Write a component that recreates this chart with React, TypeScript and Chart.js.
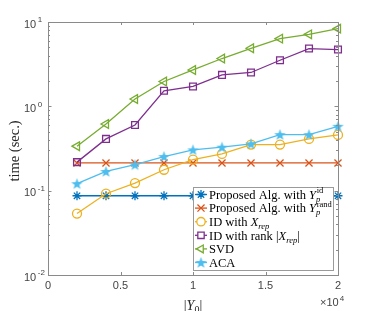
import React, { useEffect, useRef } from 'react';
import { Chart, registerables } from 'chart.js';

Chart.register(...registerables);

// ---- data ----
const xValues = [2000, 4000, 6000, 8000, 10000, 12000, 14000, 16000, 18000, 20000];
const proposedId = [0.087, 0.087, 0.087, 0.087, 0.087, 0.087, 0.087, 0.087, 0.087, 0.087];
const proposedRand = [0.213, 0.213, 0.213, 0.213, 0.213, 0.213, 0.213, 0.213, 0.213, 0.213];
const idXrep = [0.0535, 0.092, 0.123, 0.177, 0.234, 0.273, 0.352, 0.352, 0.411, 0.458];
const idRank = [0.218, 0.411, 0.601, 1.53, 1.72, 2.36, 2.52, 3.52, 4.84, 4.71];
const svd = [0.337, 0.618, 1.22, 1.97, 2.70, 3.69, 4.88, 6.35, 7.14, 8.34];
const aca = [0.121, 0.169, 0.203, 0.254, 0.305, 0.328, 0.359, 0.462, 0.462, 0.580];

const xTickValues = [0, 5000, 10000, 15000, 20000];
const xTickLabels = ['0', '0.5', '1', '1.5', '2'];
const yDecades = [1, 0, -1, -2];

const C_BLUE = '#0072BD';
const C_RED = '#D95319';
const C_YEL = '#EDB120';
const C_PUR = '#7E2F8E';
const C_GRN = '#77AC30';
const C_CYAN = '#4DBEEE';

function makePentagram(color: string, size: number): HTMLCanvasElement {
  const c = document.createElement('canvas');
  c.width = size;
  c.height = size;
  const ctx = c.getContext('2d')!;
  const cx = size / 2, cy = size / 2 + 0.5;
  const R = size / 2 - 0.5, r = R * 0.4;
  ctx.beginPath();
  for (let i = 0; i < 10; i++) {
    const rad = -Math.PI / 2 + (i * Math.PI) / 5;
    const rr = i % 2 === 0 ? R : r;
    const px = cx + Math.cos(rad) * rr, py = cy + Math.sin(rad) * rr;
    if (i === 0) ctx.moveTo(px, py); else ctx.lineTo(px, py);
  }
  ctx.closePath();
  ctx.fillStyle = color;
  ctx.fill();
  return c;
}

type Part = { t?: string; it?: boolean; sub?: string; subIt?: boolean; sup?: string };

function drawRich(ctx: CanvasRenderingContext2D, x: number, baseline: number, parts: Part[], size: number, small: number, family: string, measureOnly = false): number {
  let cx = x;
  for (const p of parts) {
    if (p.t !== undefined) {
      ctx.font = `${p.it ? 'italic ' : ''}${size}px ${family}`;
      if (!measureOnly) ctx.fillText(p.t, cx, baseline);
      cx += ctx.measureText(p.t).width;
    }
    if (p.sub !== undefined || p.sup !== undefined) {
      let w = 0;
      if (p.sup !== undefined) {
        ctx.font = `${small}px ${family}`;
        if (!measureOnly) ctx.fillText(p.sup, cx + 0.8, baseline - size * 0.42);
        w = Math.max(w, ctx.measureText(p.sup).width + 0.8);
      }
      if (p.sub !== undefined) {
        ctx.font = `${p.subIt ? 'italic ' : ''}${small}px ${family}`;
        if (!measureOnly) ctx.fillText(p.sub, cx, baseline + size * 0.25);
        w = Math.max(w, ctx.measureText(p.sub).width);
      }
      cx += w;
    }
  }
  return cx - x;
}

const pentaImg = makePentagram(C_CYAN, 13);

function drawMarker(ctx: CanvasRenderingContext2D, style: string, x: number, y: number, r: number, color: string) {
  ctx.save();
  ctx.strokeStyle = color;
  ctx.fillStyle = color;
  ctx.lineWidth = 1.3;
  ctx.beginPath();
  if (style === 'star') {
    for (let i = 0; i < 4; i++) {
      const a = (i * Math.PI) / 4;
      ctx.moveTo(x - Math.cos(a) * r, y - Math.sin(a) * r);
      ctx.lineTo(x + Math.cos(a) * r, y + Math.sin(a) * r);
    }
    ctx.stroke();
  } else if (style === 'crossRot') {
    const o = r * Math.SQRT1_2;
    ctx.moveTo(x - o, y - o); ctx.lineTo(x + o, y + o);
    ctx.moveTo(x + o, y - o); ctx.lineTo(x - o, y + o);
    ctx.stroke();
  } else if (style === 'circle') {
    ctx.arc(x, y, r, 0, Math.PI * 2);
    ctx.fillStyle = '#fff';
    ctx.fill();
    ctx.stroke();
  } else if (style === 'rect') {
    const s = r * Math.SQRT1_2;
    ctx.rect(x - s, y - s, 2 * s, 2 * s);
    ctx.fillStyle = '#fff';
    ctx.fill();
    ctx.stroke();
  } else if (style === 'triLeft') {
    ctx.moveTo(x - r, y);
    ctx.lineTo(x + r * 0.5, y - r * 0.866);
    ctx.lineTo(x + r * 0.5, y + r * 0.866);
    ctx.closePath();
    ctx.fillStyle = '#fff';
    ctx.fill();
    ctx.stroke();
  } else if (style === 'penta') {
    ctx.drawImage(pentaImg, x - pentaImg.width / 2, y - pentaImg.height / 2);
  }
  ctx.restore();
}

const legendEntries: { color: string; marker: string; r: number; parts: Part[] }[] = [
  { color: C_BLUE, marker: 'star', r: 4.5, parts: [{ t: 'Proposed Alg. with ' }, { t: 'Y', it: true, sub: 'p', subIt: true, sup: 'id' }] },
  { color: C_RED, marker: 'crossRot', r: 5, parts: [{ t: 'Proposed Alg. with ' }, { t: 'Y', it: true, sub: 'p', subIt: true, sup: 'rand' }] },
  { color: C_YEL, marker: 'circle', r: 4.2, parts: [{ t: 'ID with ' }, { t: 'X', it: true, sub: 'rep', subIt: true }] },
  { color: C_PUR, marker: 'rect', r: 4.5, parts: [{ t: 'ID with rank ' }, { t: '|' }, { t: 'X', it: true, sub: 'rep', subIt: true }, { t: '|' }] },
  { color: C_GRN, marker: 'triLeft', r: 4.5, parts: [{ t: 'SVD' }] },
  { color: C_CYAN, marker: 'penta', r: 5, parts: [{ t: 'ACA' }] },
];

const SERIF = '"Liberation Serif", "Times New Roman", serif';
const SANS = '"Liberation Sans", Arial, sans-serif';

const decorPlugin = {
  id: 'matlabDecor',
  afterDraw(chart: any) {
    const ctx: CanvasRenderingContext2D = chart.ctx;
    const { left, right, top, bottom } = chart.chartArea;
    const xs = chart.scales.x;
    const ys = chart.scales.y;
    ctx.save();
    // box
    ctx.strokeStyle = '#8a8a8a';
    ctx.lineWidth = 1;
    ctx.strokeRect(Math.round(left) + 0.5, Math.round(top) + 0.5, Math.round(right - left), Math.round(bottom - top));
    ctx.beginPath();
    // x ticks
    for (const v of xTickValues) {
      const px = Math.round(xs.getPixelForValue(v)) + 0.5;
      ctx.moveTo(px, bottom); ctx.lineTo(px, bottom - 3);
      ctx.moveTo(px, top); ctx.lineTo(px, top + 3);
    }
    // y ticks major + minor
    for (let d = -2; d <= 1; d++) {
      const py = Math.round(ys.getPixelForValue(Math.pow(10, d))) + 0.5;
      ctx.moveTo(left, py); ctx.lineTo(left + 3.5, py);
      ctx.moveTo(right, py); ctx.lineTo(right - 3.5, py);
      if (d < 1) {
        for (let m = 2; m <= 9; m++) {
          const pm = Math.round(ys.getPixelForValue(m * Math.pow(10, d))) + 0.5;
          ctx.moveTo(left, pm); ctx.lineTo(left + 2, pm);
          ctx.moveTo(right, pm); ctx.lineTo(right - 2, pm);
        }
      }
    }
    ctx.stroke();

    // tick labels
    ctx.fillStyle = '#444';
    ctx.textBaseline = 'middle';
    ctx.font = `11px ${SANS}`;
    ctx.textAlign = 'center';
    xTickValues.forEach((v, i) => {
      ctx.fillText(xTickLabels[i], xs.getPixelForValue(v), bottom + 11);
    });
    ctx.textAlign = 'left';
    for (const d of yDecades) {
      const py = ys.getPixelForValue(Math.pow(10, d));
      ctx.font = `11px ${SANS}`;
      ctx.fillText('10', 24, py + 2.5);
      const w = ctx.measureText('10').width;
      ctx.font = `8px ${SANS}`;
      ctx.fillText(String(d), 24 + w + 1.5, py - 2);
    }
    // x exponent
    ctx.font = `11px ${SANS}`;
    ctx.fillText('\u00d710', 320, 303);
    const we = ctx.measureText('\u00d710').width;
    ctx.font = `8px ${SANS}`;
    ctx.fillText('4', 320 + we + 1, 298.5);

    // axis titles
    ctx.fillStyle = '#262626';
    ctx.textBaseline = 'alphabetic';
    const titleParts: Part[] = [{ t: '|' }, { t: 'Y', it: true, sub: '0' }, { t: '|' }];
    const tw = drawRich(ctx, 0, 0, titleParts, 14, 10, SERIF, true);
    drawRich(ctx, 193 - tw / 2, 309.5, titleParts, 14, 10, SERIF);

    ctx.save();
    ctx.translate(15, 151);
    ctx.rotate(-Math.PI / 2);
    ctx.font = `14.5px ${SERIF}`;
    ctx.textAlign = 'center';
    ctx.textBaseline = 'middle';
    ctx.fillText('time (sec.)', 0, 0);
    ctx.restore();

    // legend
    const lx0 = 193.5, ly0 = 187.5, lx1 = 333.5, ly1 = 270.5;
    ctx.fillStyle = '#ffffff';
    ctx.fillRect(lx0, ly0, lx1 - lx0, ly1 - ly0);
    ctx.strokeStyle = '#9a9a9a';
    ctx.lineWidth = 1;
    ctx.strokeRect(lx0, ly0, lx1 - lx0, ly1 - ly0);
    legendEntries.forEach((e, i) => {
      const y = 194.5 + i * 13.6;
      ctx.strokeStyle = e.color;
      ctx.lineWidth = 1.3;
      ctx.beginPath();
      ctx.moveTo(195, y); ctx.lineTo(207, y);
      ctx.stroke();
      drawMarker(ctx, e.marker, 201, y, e.r, e.color);
      ctx.fillStyle = '#000';
      ctx.textBaseline = 'alphabetic';
      ctx.textAlign = 'left';
      drawRich(ctx, 209, y + 4.2, e.parts, 12.5, 8.5, SERIF);
    });
    ctx.restore();
  },
};

function pts(ys: number[]) {
  return xValues.map((x, i) => ({ x, y: ys[i] }));
}

export default function App() {
  const ref = useRef<HTMLCanvasElement>(null);
  useEffect(() => {
    const canvas = ref.current!;
    const pentaPoint = makePentagram(C_CYAN, 13);
    const common = { borderWidth: 1.3, pointBorderWidth: 1.3, clip: false as any, tension: 0 };
    const chart = new Chart(canvas, {
      type: 'line',
      data: {
        datasets: [
          { ...common, label: 'Proposed Alg. with Y_p^id', data: pts(proposedId), borderColor: C_BLUE, pointBorderColor: C_BLUE, pointBackgroundColor: C_BLUE, pointStyle: 'star', pointRadius: 4.5, order: 0 },
          { ...common, label: 'Proposed Alg. with Y_p^rand', data: pts(proposedRand), borderColor: C_RED, pointBorderColor: C_RED, pointBackgroundColor: C_RED, pointStyle: 'crossRot', pointRadius: 5, order: -1 },
          { ...common, label: 'ID with X_rep', data: pts(idXrep), borderColor: C_YEL, pointBorderColor: C_YEL, pointBackgroundColor: 'rgba(255,255,255,0)', pointStyle: 'circle', pointRadius: 4.5, order: -2 },
          { ...common, label: 'ID with rank |X_rep|', data: pts(idRank), borderColor: C_PUR, pointBorderColor: C_PUR, pointBackgroundColor: 'rgba(255,255,255,0)', pointStyle: 'rect', pointRadius: 4.8, order: -3 },
          { ...common, label: 'SVD', data: pts(svd), borderColor: C_GRN, pointBorderColor: C_GRN, pointBackgroundColor: 'rgba(255,255,255,0)', pointStyle: 'triangle', pointRotation: -90, pointRadius: 5, order: -4 },
          { ...common, label: 'ACA', data: pts(aca), borderColor: C_CYAN, pointBorderColor: C_CYAN, pointBackgroundColor: C_CYAN, pointStyle: pentaPoint as any, pointRadius: 6, order: -5 },
        ] as any,
      },
      options: {
        responsive: false,
        animation: false,
        devicePixelRatio: 1,
        layout: { padding: { left: 48, right: 36, top: 22, bottom: 36 } },
        scales: {
          x: {
            type: 'linear', min: 0, max: 20000, display: false,
            grid: { display: false }, border: { display: false }, ticks: { display: false },
          },
          y: {
            type: 'logarithmic', min: 0.01, max: 10, display: false,
            grid: { display: false }, border: { display: false }, ticks: { display: false },
          },
        },
        plugins: { legend: { display: false }, tooltip: { enabled: false } },
        events: [],
      },
      plugins: [decorPlugin],
    });
    return () => chart.destroy();
  }, []);
  return (
    <div style={{ position: 'absolute', left: 0, top: 0, width: 374, height: 311, background: '#fff' }}>
      <canvas ref={ref} width={374} height={311} style={{ display: 'block' }} />
    </div>
  );
}
